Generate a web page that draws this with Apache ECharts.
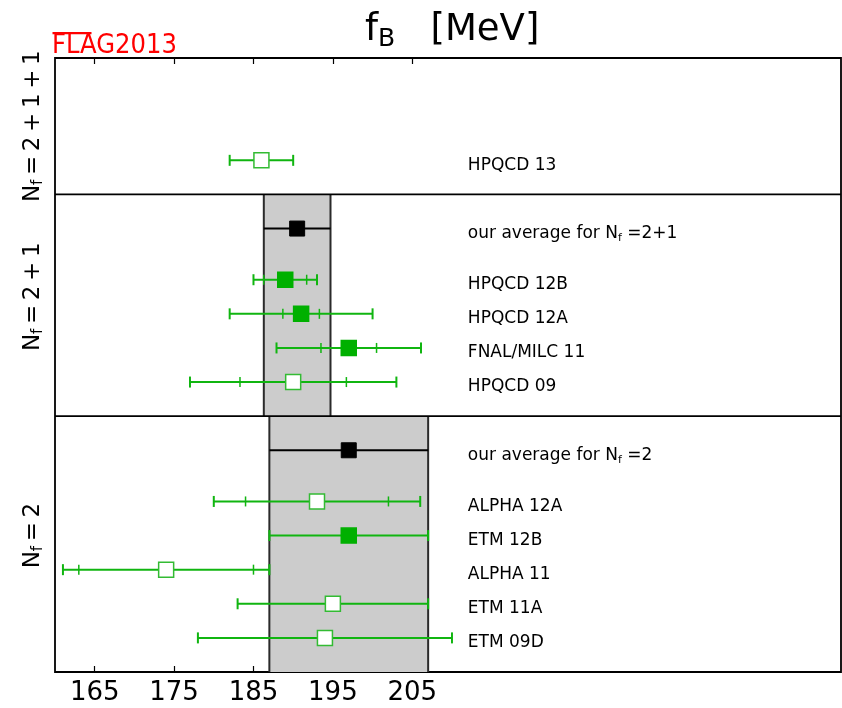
<!DOCTYPE html>
<html><head><meta charset="utf-8">
<script src="https://cdn.jsdelivr.net/npm/echarts@6/dist/echarts.min.js"></script>
<style>html,body{margin:0;padding:0;background:#fff}#c{width:842px;height:708px}</style>
</head><body><div id="c"></div>
<script>
// ---- data (values in MeV), listed top to bottom within each panel ----
// Nf = 2+1+1
const names4 = ['HPQCD 13'];
const vals4 = [186];
const stat4 = [0];
const tot4 = [4];
const fill4 = [0];
// Nf = 2+1
const names3 = ['HPQCD 12B', 'HPQCD 12A', 'FNAL/MILC 11', 'HPQCD 09'];
const vals3 = [189, 191, 197, 190];
const stat3 = [2.7, 2.3, 3.5, 6.7];
const tot3 = [4, 9, 9.1, 13];
const fill3 = [1, 1, 1, 0];
const avg3 = [190.5, 4.2];
// Nf = 2
const names2 = ['ALPHA 12A', 'ETM 12B', 'ALPHA 11', 'ETM 11A', 'ETM 09D'];
const vals2 = [193, 197, 174, 195, 194];
const stat2 = [9, 0, 11, 0, 0];
const tot2 = [13, 10, 13, 12, 16];
const fill2 = [0, 1, 0, 0, 0];
const avg2 = [197, 10];
const xTicks = [165, 175, 185, 195, 205];

// ---- layout constants ----
const GREEN = '#00b000';
const LINEGREEN = '#10b510';
const FONT = "'DejaVu Sans', sans-serif";
const labelX = 212;           // x (in MeV units) where the right-hand labels start
const panelLabelY = [4, 11, 16];

const groups = [
  {names: names2, vals: vals2, stat: stat2, tot: tot2, fill: fill2, avg: avg2, nf: '2'},
  {names: names3, vals: vals3, stat: stat3, tot: tot3, fill: fill3, avg: avg3, nf: '2+1'},
  {names: names4, vals: vals4, stat: stat4, tot: tot4, fill: fill4, avg: null, nf: '2+1+1'}
];

const points = [], averages = [], bands = [], separators = [], labels = [];
let boundary = 0;
groups.forEach((g, gi) => {
  const lower = boundary;
  let y = lower;
  for (let i = g.names.length - 1; i >= 0; i--) {
    y += 1;
    points.push([g.vals[i], y, g.stat[i], g.tot[i], g.fill[i]]);
    labels.push({y: y, text: '{t|' + g.names[i] + '}'});
  }
  let upper;
  if (g.avg) {
    const ay = y + 1.5;
    averages.push([g.avg[0], ay, g.avg[1]]);
    labels.push({y: ay, text: '{t|our average for N}{s|f}{t| =' + g.nf + '}'});
    upper = ay + 1;
    bands.push([g.avg[0] - g.avg[1], g.avg[0] + g.avg[1], lower, upper]);
  } else {
    upper = y + 3;
  }
  if (gi < groups.length - 1) separators.push([upper]);
  boundary = upper;
});
const yMax = boundary;

const chart = echarts.init(document.getElementById('c'), null, {renderer: 'canvas'});

function capLine(x, y, h, color, w) {
  return {type: 'line', shape: {x1: x, y1: y - h, x2: x, y2: y + h}, style: {stroke: color, lineWidth: w}};
}

const tickStyle = {show: true, inside: true, length: 6, lineStyle: {color: '#000', width: 1.2}, customValues: xTicks};

const option = {
  animation: false,
  backgroundColor: '#fff',
  grid: {left: 55, right: 1, top: 58, bottom: 36, show: true, borderColor: '#000', borderWidth: 1.8, backgroundColor: 'transparent'},
  xAxis: [
    {type: 'value', position: 'bottom', min: 160, max: 259,
     axisLine: {show: false}, splitLine: {show: false}, axisTick: tickStyle,
     axisLabel: {show: true, customValues: xTicks, fontSize: 26, fontFamily: FONT, color: '#000', margin: 8}},
    {type: 'value', position: 'top', min: 160, max: 259,
     axisLine: {show: false}, splitLine: {show: false}, axisTick: tickStyle,
     axisLabel: {show: false}}
  ],
  yAxis: {type: 'value', min: 0, max: yMax, show: true,
          axisLine: {show: false}, axisTick: {show: false}, axisLabel: {show: false}, splitLine: {show: false}},
  graphic: [
    {type: 'text', left: 365, top: 12, z: 10,
     style: {text: '{m|f}{s|B}{m|   [MeV]}', rich: {
       m: {fontFamily: FONT, fontSize: 37, fill: '#000', lineHeight: 42},
       s: {fontFamily: FONT, fontSize: 25, fill: '#000', lineHeight: 6, verticalAlign: 'bottom'}}}},
    {type: 'text', left: 52, top: 32, z: 10,
     style: {text: 'FLAG2013', fontFamily: "'DejaVu Sans Condensed', 'DejaVu Sans', sans-serif", fontSize: 27, fill: '#ff0000'}},
    {type: 'rect', shape: {x: 52.5, y: 32, width: 39, height: 2.2}, style: {fill: '#ff0000'}, z: 10}
  ],
  series: [
    {type: 'custom', name: 'bands', data: bands, z: 1, silent: true,
     renderItem: (params, api) => {
       const p1 = api.coord([api.value(0), api.value(3)]);
       const p2 = api.coord([api.value(1), api.value(2)]);
       return {type: 'group', children: [
         {type: 'rect', shape: {x: p1[0], y: p1[1], width: p2[0] - p1[0], height: p2[1] - p1[1]}, style: {fill: '#cccccc'}},
         {type: 'line', shape: {x1: p1[0], y1: p1[1], x2: p1[0], y2: p2[1]}, style: {stroke: '#2a2a2a', lineWidth: 2}},
         {type: 'line', shape: {x1: p2[0], y1: p1[1], x2: p2[0], y2: p2[1]}, style: {stroke: '#2a2a2a', lineWidth: 2}}
       ]};
     }},
    {type: 'custom', name: 'separators', data: separators, z: 2, silent: true,
     renderItem: (params, api) => {
       const cs = params.coordSys;
       const yy = api.coord([160, api.value(0)])[1];
       return {type: 'line', shape: {x1: cs.x, y1: yy, x2: cs.x + cs.width, y2: yy}, style: {stroke: '#000', lineWidth: 1.8}};
     }},
    {type: 'custom', name: 'averages', data: averages, z: 3, silent: true,
     renderItem: (params, api) => {
       const v = api.value(0), y = api.value(1), e = api.value(2);
       const c = api.coord([v, y]), lo = api.coord([v - e, y]), hi = api.coord([v + e, y]);
       return {type: 'group', children: [
         {type: 'line', shape: {x1: lo[0], y1: c[1], x2: hi[0], y2: c[1]}, style: {stroke: '#000', lineWidth: 2}},
         {type: 'rect', shape: {x: c[0] - 7.5, y: c[1] - 7.5, width: 15, height: 15}, style: {fill: '#000', stroke: '#000', lineWidth: 1}}
       ]};
     }},
    {type: 'custom', name: 'results', data: points, z: 4, silent: true,
     renderItem: (params, api) => {
       const v = api.value(0), y = api.value(1), st = api.value(2), tt = api.value(3), f = api.value(4);
       const c = api.coord([v, y]), lo = api.coord([v - tt, y]), hi = api.coord([v + tt, y]);
       const ch = [
         {type: 'line', shape: {x1: lo[0], y1: c[1], x2: hi[0], y2: c[1]}, style: {stroke: LINEGREEN, lineWidth: 2}},
         capLine(lo[0], c[1], 5.5, LINEGREEN, 2), capLine(hi[0], c[1], 5.5, LINEGREEN, 2)
       ];
       if (st > 0) {
         ch.push(capLine(api.coord([v - st, y])[0], c[1], 5, LINEGREEN, 1.5));
         ch.push(capLine(api.coord([v + st, y])[0], c[1], 5, LINEGREEN, 1.5));
       }
       ch.push({type: 'rect', shape: {x: c[0] - 7.5, y: c[1] - 7.5, width: 15, height: 15},
                style: {fill: f ? GREEN : '#ffffff', stroke: f ? GREEN : '#33bb33', lineWidth: 1.5}});
       return {type: 'group', children: ch};
     }},
    {type: 'custom', name: 'labels', data: labels.map(l => [labelX, l.y]), z: 5, silent: true,
     renderItem: (params, api) => {
       const p = api.coord([api.value(0), api.value(1)]);
       const t = labels[params.dataIndex].text;
       return {type: 'text', x: p[0], y: p[1] + 5, style: {
         text: t, align: 'left', verticalAlign: 'middle',
         rich: {t: {fontFamily: FONT, fontSize: 17, fill: '#000', lineHeight: 20},
                s: {fontFamily: FONT, fontSize: 11, fill: '#000', lineHeight: 8, verticalAlign: 'bottom'}}}};
     }},
    {type: 'custom', name: 'panelLabels', data: groups.map((g, i) => [160, panelLabelY[i]]), z: 5, silent: true,
     renderItem: (params, api) => {
       const cs = params.coordSys;
       const p = api.coord([api.value(0), api.value(1)]);
       const nf = groups[params.dataIndex].nf.split('').join('\u2009');
       return {type: 'text', x: cs.x - 22, y: p[1], rotation: Math.PI / 2, style: {
         text: '{m|N}{s|f}{m|\u2009=\u2009' + nf + '}', align: 'center', verticalAlign: 'middle',
         rich: {m: {fontFamily: FONT, fontSize: 23, fill: '#000', lineHeight: 26},
                s: {fontFamily: FONT, fontSize: 15, fill: '#000', lineHeight: 10, verticalAlign: 'bottom'}}}};
     }}
  ]
};
chart.setOption(option);
</script>
</body></html>
